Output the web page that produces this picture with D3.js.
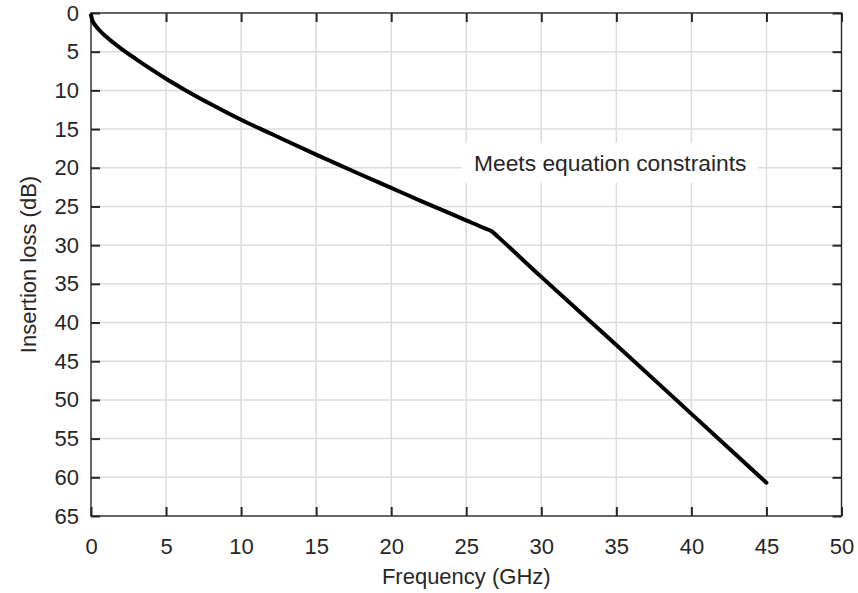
<!DOCTYPE html>
<html>
<head>
<meta charset="utf-8">
<script src="https://cdn.jsdelivr.net/npm/d3@7"></script>
<style>
  html, body { margin: 0; padding: 0; background: #fff; }
  svg { display: block; }
  text { font-family: "Liberation Sans", Arial, Helvetica, sans-serif; }
</style>
</head>
<body>
<svg id="chart" width="858" height="593"></svg>
<script>
// ---- data ----
const frequencyGHz = [0, 0.1, 0.25, 0.5, 1, 1.5, 2, 3, 4, 5, 6, 8, 10, 12, 15, 18, 20, 22, 25, 26.2, 26.7, 27.1, 30, 35, 40, 45];
const insertionLossDb = [0.3, 1.0, 1.5, 2.1, 3.05, 3.85, 4.6, 5.95, 7.25, 8.5, 9.65, 11.8, 13.8, 15.6, 18.3, 20.9, 22.6, 24.3, 26.8, 27.8, 28.2, 28.9, 34.1, 42.9, 51.8, 60.7];
const xTicks = [0, 5, 10, 15, 20, 25, 30, 35, 40, 45, 50];
const yTicks = [0, 5, 10, 15, 20, 25, 30, 35, 40, 45, 50, 55, 60, 65];
const xLabel = "Frequency (GHz)";
const yLabel = "Insertion loss (dB)";
const annotation = "Meets equation constraints";

// ---- layout ----
const svg = d3.select("#chart");
const L = 91, R = 841.5, T = 13, B = 516;
const x = d3.scaleLinear().domain([0, 50]).range([L, R]);
const y = d3.scaleLinear().domain([0, 65]).range([T, B]);
const axisColor = "#262626";
const gridColor = "#dcdcdc";
const fontSize = 22;

// grid
const grid = svg.append("g");
grid.selectAll("line.gx").data(xTicks.slice(1, -1)).join("line")
  .attr("x1", d => x(d)).attr("x2", d => x(d))
  .attr("y1", T).attr("y2", B)
  .attr("stroke", gridColor).attr("stroke-width", 1.5);
grid.selectAll("line.gy").data(yTicks.slice(1, -1)).join("line")
  .attr("y1", d => y(d)).attr("y2", d => y(d))
  .attr("x1", L).attr("x2", R)
  .attr("stroke", gridColor).attr("stroke-width", 1.5);

// annotation background box (covers grid)
svg.append("rect")
  .attr("x", 462).attr("y", 143).attr("width", 296).attr("height", 40)
  .attr("fill", "#fff");

// axes (ticks inside, on all four sides)
function styleAxis(g) {
  g.select(".domain").remove();
  g.selectAll(".tick line").attr("stroke", axisColor).attr("stroke-width", 2);
  g.selectAll(".tick text").attr("fill", axisColor).attr("font-size", fontSize)
    .attr("font-family", '"Liberation Sans", Arial, sans-serif');
}
const fmt = d3.format("d");
svg.append("g").attr("transform", `translate(0,${B})`)
  .call(d3.axisBottom(x).tickValues(xTicks).tickFormat(fmt).tickSizeInner(-9).tickSizeOuter(0).tickPadding(22))
  .call(styleAxis);
svg.append("g").attr("transform", `translate(0,${T})`)
  .call(d3.axisTop(x).tickValues(xTicks).tickFormat("").tickSizeInner(-9).tickSizeOuter(0))
  .call(styleAxis);
svg.append("g").attr("transform", `translate(${L},0)`)
  .call(d3.axisLeft(y).tickValues(yTicks).tickFormat(fmt).tickSizeInner(-9).tickSizeOuter(0).tickPadding(12))
  .call(styleAxis);
svg.append("g").attr("transform", `translate(${R},0)`)
  .call(d3.axisRight(y).tickValues(yTicks).tickFormat("").tickSizeInner(-9).tickSizeOuter(0))
  .call(styleAxis);

// box
svg.append("rect")
  .attr("x", L).attr("y", T).attr("width", R - L).attr("height", B - T)
  .attr("fill", "none").attr("stroke", axisColor).attr("stroke-width", 1.4);

// data line
const line = d3.line().x((d, i) => x(frequencyGHz[i])).y(d => y(d)).curve(d3.curveMonotoneX);
svg.append("path")
  .datum(insertionLossDb)
  .attr("d", line)
  .attr("fill", "none")
  .attr("stroke", "#000")
  .attr("stroke-width", 4)
  .attr("stroke-linejoin", "round")
  .attr("stroke-linecap", "round");

// annotation text
svg.append("text")
  .attr("x", 474).attr("y", 171)
  .attr("font-size", 22.8).attr("fill", axisColor)
  .text(annotation);

// axis labels
svg.append("text")
  .attr("x", (L + R) / 2).attr("y", 584)
  .attr("text-anchor", "middle").attr("font-size", fontSize).attr("fill", axisColor)
  .text(xLabel);
svg.append("text")
  .attr("transform", `translate(36,${(T + B) / 2}) rotate(-90)`)
  .attr("text-anchor", "middle").attr("font-size", fontSize).attr("fill", axisColor)
  .text(yLabel);
</script>
</body>
</html>
